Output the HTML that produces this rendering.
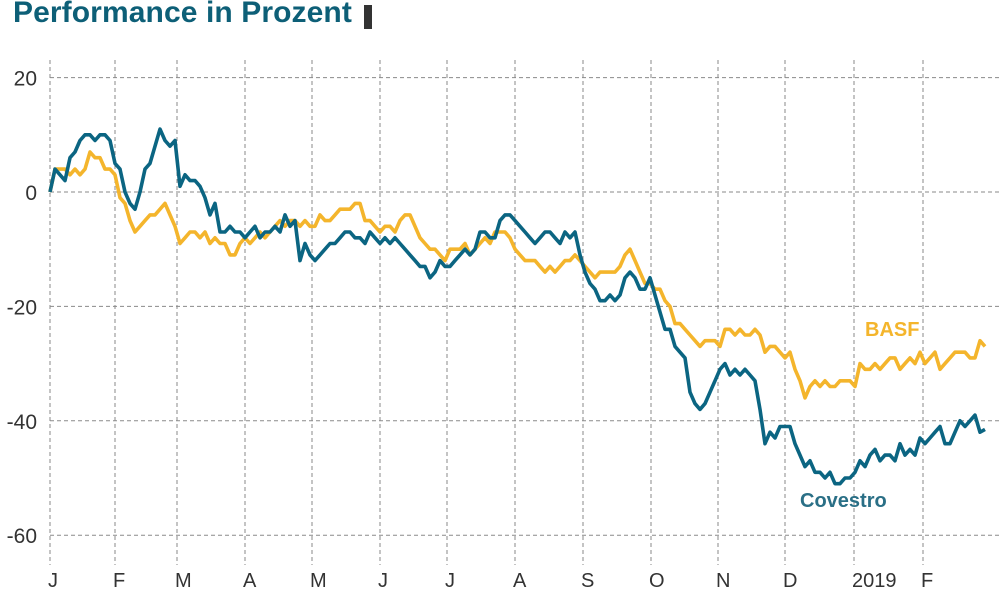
<!DOCTYPE html>
<html><head><meta charset="utf-8">
<style>
html,body{margin:0;padding:0;background:#fff;}
body{width:1000px;height:593px;overflow:hidden;position:relative;font-family:"Liberation Sans",sans-serif;}
#title{position:absolute;left:13px;top:-4px;font-size:30px;font-weight:bold;color:#0d5f77;letter-spacing:0.1px;white-space:nowrap;}
#badge{position:absolute;left:364px;top:5px;width:8px;height:24px;background:#333;}
svg{position:absolute;left:0;top:0;}
</style></head><body>
<div id="title">Performance in Prozent</div>
<div id="badge"></div>
<svg id="chart" width="1000" height="593"></svg>
<script>
const yTicks=[20,0,-20,-40,-60];
const yTickLabels=["20","0","-20","-40","-60"];
const monthLabels=["J","F","M","A","M","J","J","A","S","O","N","D","2019","F"];
const monthStartIdx=[0,13,25.4,39,52.4,66,79.4,93,106.6,120.2,133.6,147,160.8,174.6];
const covestro=[0,4,3,2,6,7,9,10,10,9,10,10,9,5,4,0,-2,-3,0,4,5,8,11,9,8,9,1,3,2,2,1,-1,-4,-2,-7,-7,-6,-7,-7,-8,-7,-6,-8,-7,-7,-6,-7,-4,-6,-5,-12,-9,-11,-12,-11,-10,-9,-9,-8,-7,-7,-8,-8,-9,-7,-8,-9,-8,-9,-8,-9,-10,-11,-12,-13,-13,-15,-14,-12,-13,-13,-12,-11,-10,-11,-10,-7,-7,-8,-8,-5,-4,-4,-5,-6,-7,-8,-9,-8,-7,-7,-8,-9,-7,-8,-7,-11,-14,-16,-17,-19,-19,-18,-19,-18,-15,-14,-15,-17,-17,-15,-18,-21,-24,-24,-27,-28,-29,-35,-37,-38,-37,-35,-33,-31,-30,-32,-31,-32,-31,-32,-33,-38,-44,-42,-43,-41,-41,-41,-44,-46,-48,-47,-49,-49,-50,-49,-51,-51,-50,-50,-49,-47,-48,-46,-45,-47,-46,-46,-47,-44,-46,-45,-46,-43,-44,-43,-42,-41,-44,-44,-42,-40,-41,-40,-39,-42,-41.5];
const basf=[0,4,4,4,3,4,3,4,7,6,6,4,4,3,-1,-2,-5,-7,-6,-5,-4,-4,-3,-2,-4,-6,-9,-8,-7,-7,-8,-7,-9,-8,-9,-9,-11,-11,-9,-8,-9,-8,-7,-8,-7,-6,-5,-6,-5,-5,-6,-5,-6,-6,-4,-5,-5,-4,-3,-3,-3,-2,-2,-5,-5,-6,-7,-6,-6,-7,-5,-4,-4,-6,-8,-9,-10,-10,-11,-12,-10,-10,-10,-9,-11,-10,-9,-8,-9,-7,-7,-7,-8,-10,-11,-12,-12,-12,-13,-14,-13,-14,-13,-12,-12,-11,-12,-13,-14,-15,-14,-14,-14,-14,-13,-11,-10,-12,-14,-16,-16,-17,-17,-19,-20,-23,-23,-24,-25,-26,-27,-26,-26,-26,-27,-24,-24,-25,-24,-25,-25,-24,-25,-28,-27,-27,-28,-29,-28,-31,-33,-36,-34,-33,-34,-33,-34,-34,-33,-33,-33,-34,-30,-31,-31,-30,-31,-30,-29,-29,-31,-30,-29,-30,-28,-30,-29,-28,-31,-30,-29,-28,-28,-28,-29,-29,-26,-27];

const svg=document.getElementById('chart');
const NS='http://www.w3.org/2000/svg';
const X0=50,XSTEP=5,Y0=192,YSCALE=5.72;
function xs(i){return X0+i*XSTEP;}
function ys(v){return Y0-v*YSCALE;}
function mk(tag,attrs){const e=document.createElementNS(NS,tag);for(const k in attrs)e.setAttribute(k,attrs[k]);svg.appendChild(e);return e;}

yTicks.forEach((t,k)=>{
  const l=mk('line',{x1:X0,x2:1000,y1:ys(t),y2:ys(t),stroke:'#8a8a8a','stroke-width':1,'stroke-dasharray':'4,3'});
  
  
  const tx=mk('text',{x:37,y:ys(t)+8,'text-anchor':'end','font-size':21,fill:'#333','font-family':'Liberation Sans, sans-serif'});
  tx.textContent=yTickLabels[k];
  
  
});
monthStartIdx.forEach((m,k)=>{
  const l=mk('line',{x1:xs(m),x2:xs(m),y1:60,y2:565,stroke:'#8a8a8a','stroke-width':1,'stroke-dasharray':'4,3'});
  
  
  const tx=mk('text',{x:xs(m)-2,y:587,'font-size':20,fill:'#333','font-family':'Liberation Sans, sans-serif'});
  tx.textContent=monthLabels[k];
  
  
});
function line(arr,color,name){
  const d=arr.map((v,i)=>(i?'L':'M')+xs(i).toFixed(1)+' '+ys(v).toFixed(1)).join(' ');
  const p=mk('path',{d:d,fill:'none',stroke:color,'stroke-width':3.6,'stroke-linejoin':'round'});
  
  
}
line(basf,'#f4b52c','basf-line');
line(covestro,'#0b6582','covestro-line');
const lb=mk('text',{x:865,y:336,'font-size':20,'font-weight':'bold',fill:'#f4b52c','font-family':'Liberation Sans, sans-serif'});
lb.textContent='BASF';


const lc=mk('text',{x:800,y:507,'font-size':20,'font-weight':'bold',fill:'#2a6f86','font-family':'Liberation Sans, sans-serif'});
lc.textContent='Covestro';


</script>
</body></html>
